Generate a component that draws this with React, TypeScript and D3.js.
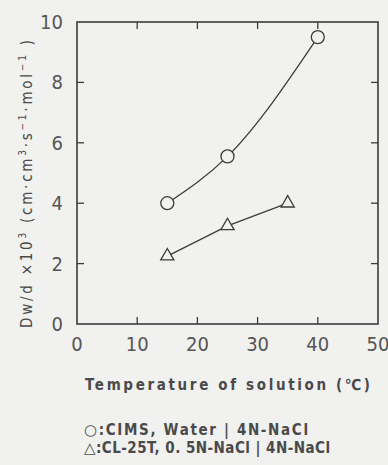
import * as d3 from "d3"

// temperature of solution (°C) and Dw/d x 10^3
const circleTemps = [15, 25, 40]
const circleVals = [4.0, 5.55, 9.5]
const triTemps = [15, 25, 35]
const triVals = [2.25, 3.25, 4.0]

const xTicks = [0, 10, 20, 30, 40, 50]
const yTicks = [0, 2, 4, 6, 8, 10]

const xLabel = "Temperature of solution (℃)"
const legend1 = ":CIMS, Water | 4N-NaCl"
const legend2 = ":CL-25T, 0. 5N-NaCl | 4N-NaCl"

const W = 388
const H = 465
const bg = "#f1f1ef"
const ink = "#3c3c3c"
const textInk = "#4a4a4a"
const numFont = "'Liberation Sans Narrow', 'DejaVu Sans Condensed', sans-serif"
const labFont = "'Liberation Sans Narrow', 'DejaVu Sans Condensed', sans-serif"

export default function App() {
  const x = d3.scaleLinear().domain([0, 50]).range([77, 378])
  const y = d3.scaleLinear().domain([0, 10]).range([324, 22])
  const tick = 7

  const circlePts: [number, number][] = circleTemps.map((t, i) => [x(t), y(circleVals[i])])
  const triPts: [number, number][] = triTemps.map((t, i) => [x(t), y(triVals[i])])

  const curve = d3.line().curve(d3.curveMonotoneX)(circlePts) || ""
  const straight = d3.line()(triPts) || ""
  const tri = d3.symbol(d3.symbolTriangle, 75)() || ""

  const [x0, x1] = x.range()
  const [y0, y1] = y.range()

  return (
    <svg
      width={W}
      height={H}
      style={{ position: "absolute", left: 0, top: 0 }}
      xmlns="http://www.w3.org/2000/svg"
    >
      <rect width={W} height={H} fill={bg} />

      {/* frame */}
      <rect x={x0} y={y1} width={x1 - x0} height={y0 - y1} fill="none" stroke={ink} strokeWidth={1.6} />

      {/* inward ticks on all four sides */}
      {xTicks.slice(1, -1).map((t) => (
        <g key={"xt" + t} stroke={ink} strokeWidth={1.3}>
          <line x1={x(t)} x2={x(t)} y1={y0} y2={y0 - tick} />
          <line x1={x(t)} x2={x(t)} y1={y1} y2={y1 + tick} />
        </g>
      ))}
      {yTicks.slice(1, -1).map((t) => (
        <g key={"yt" + t} stroke={ink} strokeWidth={1.3}>
          <line x1={x0} x2={x0 + tick} y1={y(t)} y2={y(t)} />
          <line x1={x1} x2={x1 - tick} y1={y(t)} y2={y(t)} />
        </g>
      ))}

      {/* tick labels */}
      {xTicks.map((t) => (
        <text key={"xl" + t} x={x(t)} y={351} textAnchor="middle" fontFamily={numFont} fontSize={20} fill="#555">
          {t}
        </text>
      ))}
      {yTicks.map((t) => (
        <text key={"yl" + t} x={63} y={y(t) + 7} textAnchor="end" fontFamily={numFont} fontSize={20} fill="#555">
          {t}
        </text>
      ))}

      {/* series */}
      <path d={curve} fill="none" stroke={ink} strokeWidth={1.3} />
      <path d={straight} fill="none" stroke={ink} strokeWidth={1.3} />
      {circlePts.map(([cx, cy], i) => (
        <circle key={"c" + i} cx={cx} cy={cy} r={6.5} fill={bg} stroke={ink} strokeWidth={1.3} />
      ))}
      {triPts.map(([tx, ty], i) => (
        <path key={"t" + i} d={tri} transform={`translate(${tx},${ty})`} fill={bg} stroke={ink} strokeWidth={1.3} />
      ))}

      {/* y axis title */}
      <text
        transform="translate(27,184) rotate(-90)"
        textAnchor="middle"
        dominantBaseline="central"
        fontFamily={labFont}
        fontSize={15}
        fill={textInk}
        textLength={288}
        lengthAdjust="spacing"
      >
        Dw/d ×10<tspan dy={-5} fontSize={10}>3</tspan>
        <tspan dy={5}> (cm·cm</tspan>
        <tspan dy={-5} fontSize={10}>3</tspan>
        <tspan dy={5}>·s</tspan>
        <tspan dy={-5} fontSize={10}>−1</tspan>
        <tspan dy={5}>·mol</tspan>
        <tspan dy={-5} fontSize={10}>−1</tspan>
        <tspan dy={5}> )</tspan>
      </text>

      {/* x axis title */}
      <text x={85} y={390} fontFamily={labFont} fontSize={15} fontWeight="bold" fill={textInk} textLength={285} lengthAdjust="spacing">
        {xLabel}
      </text>

      {/* legend */}
      <text x={84} y={435} fontFamily={labFont} fontSize={15} fontWeight="bold" fill={textInk} textLength={224} lengthAdjust="spacing">
        <tspan fontWeight="normal" fontFamily="'DejaVu Sans', sans-serif" fontSize={15}>○</tspan>
        {legend1}
      </text>
      <text x={84} y={453} fontFamily={labFont} fontSize={15} fontWeight="bold" fill={textInk} textLength={246} lengthAdjust="spacing">
        <tspan fontWeight="normal" fontFamily="'DejaVu Sans', sans-serif" fontSize={15}>△</tspan>
        {legend2}
      </text>
    </svg>
  )
}
